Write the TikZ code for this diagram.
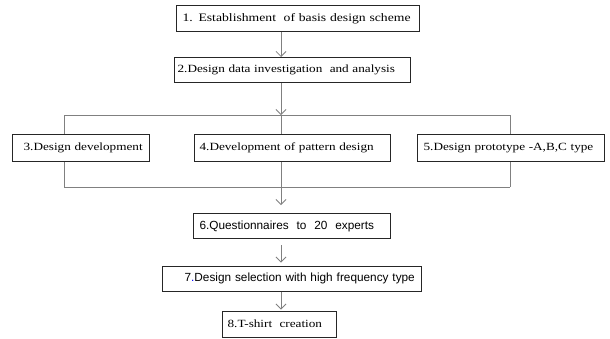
\documentclass[tikz,border=0pt]{standalone}
\usepackage{fontspec}
\setmainfont{Liberation Serif}
\newfontfamily\serifw[FakeStretch=1.2]{Liberation Serif}
\newfontfamily\sansf{Liberation Sans}
\usetikzlibrary{arrows.meta}
\hbadness=10000 \hfuzz=200pt
\begin{document}
\begin{tikzpicture}[x=1pt,y=-1pt,
  box/.style={draw=black!85, line width=1.2pt, anchor=north west, align=left,
              inner ysep=0pt, font=\serifw\fontsize{11}{13}\selectfont},
  sbox/.style={box, font=\sansf\fontsize{11.8}{13}\selectfont},
  conn/.style={draw=black!50, line width=0.8pt},
  arr/.style={conn, -{Straight Barb[length=5pt,width=10pt]}}]
\useasboundingbox (0,0) rectangle (610,338);
% boxes: text width = W - 2*pad, inner xsep = pad (left padding)
\node[box, minimum height=26pt, inner xsep=6pt, text width=231pt,
      font=\serifw\fontsize{11.4}{13}\selectfont] (b1) at (176,5)
  {\mbox{1. Establishment\ \ of basis design scheme}};
\node[box, minimum height=25pt, inner xsep=3pt, text width=230pt] (b2) at (174,57)
  {\mbox{2.Design data investigation\ \ and analysis}};
\node[box, minimum height=27pt, inner xsep=11pt, text width=115pt] (b3) at (12,134)
  {\mbox{3.Design development}};
\node[box, minimum height=27pt, inner xsep=5pt, text width=186pt] (b4) at (194,134)
  {\mbox{4.Development of pattern design}};
\node[box, minimum height=27pt, inner xsep=6pt, text width=175pt] (b5) at (417,134)
  {\mbox{5.Design prototype -A,B,C type}};
\node[sbox, minimum height=25pt, inner xsep=6pt, text width=185pt] (b6) at (193,213)
  {\mbox{6.Questionnaires\ \ to\ \ 20\ \ experts}};
\node[sbox, minimum height=25pt, inner xsep=22pt, text width=215pt] (b7) at (162,265.5)
  {\mbox{7{\color{blue}.}Design selection with high frequency type}};
\node[box, minimum height=26pt, inner xsep=5pt, text width=104pt] (b8) at (222,310.5)
  {\mbox{8.T-shirt\ \ creation}};
% axis and bracket coordinates
\coordinate (ax) at (281,0);
\coordinate (tl) at (64,115);
\coordinate (tm) at (281,115);
\coordinate (tr) at (510,115);
\coordinate (bl) at (64,187);
\coordinate (bm) at (281,187);
\coordinate (br) at (510,187);
% connectors
\draw[arr] (b1.south -| ax) -- (b2.north -| ax);
\draw[arr] (b2.south -| ax) -- (tm);
\draw[conn] (tl) -- (tr);
\draw[conn] (tl) -- (b3.north -| tl);
\draw[conn] (tm) -- (b4.north -| tm);
\draw[conn] (tr) -- (b5.north -| tr);
\draw[conn] (b3.south -| bl) -- (bl);
\draw[conn] (b4.south -| bm) -- (bm);
\draw[conn] (b5.south -| br) -- (br);
\draw[conn] (bl) -- (br);
\draw[arr, shorten >=8pt] (bm) -- (b6.north -| ax);
\draw[arr, shorten <=6pt, shorten >=3pt] (b6.south -| ax) -- (b7.north -| ax);
\draw[arr, shorten >=1pt] (b7.south -| ax) -- (b8.north -| ax);
\end{tikzpicture}
\end{document}
